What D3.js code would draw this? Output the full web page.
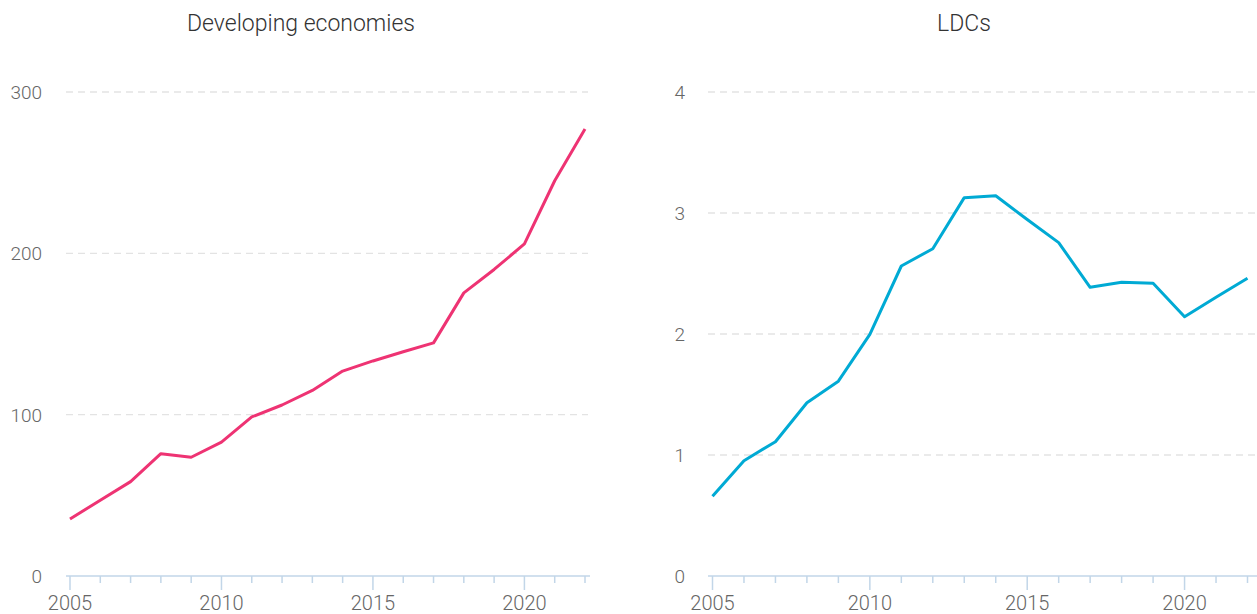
<!DOCTYPE html>
<html>
<head>
<meta charset="utf-8">
<script src="https://cdn.jsdelivr.net/npm/d3@7"></script>
<style>
  html, body { margin: 0; padding: 0; background: #fff; }
  svg { display: block; font-family: Roboto, sans-serif; }
</style>
</head>
<body>
<svg id="chart" width="1257" height="614"></svg>
<script>
const years = [2005,2006,2007,2008,2009,2010,2011,2012,2013,2014,2015,2016,2017,2018,2019,2020,2021,2022];
const developingValues = [35.3,47,58.5,75.8,73.6,83,98.6,106,115,127,133.3,139,144.5,175.5,190,205.8,245,277];
const ldcValues = [0.66,0.953,1.11,1.432,1.61,1.997,2.562,2.705,3.127,3.143,2.946,2.755,2.386,2.427,2.419,2.143,2.303,2.46];
const panelTitles = ["Developing economies", "LDCs"];
const developingTicks = [0,100,200,300];
const ldcTicks = [0,1,2,3,4];
const xTickLabels = [2005,2010,2015,2020];

const svg = d3.select("#chart");

const panels = [
  { title: panelTitles[0], values: developingValues, yTicks: developingTicks, yMax: 300,
    color: "#ee3373", x0: 70, x1: 585, gridL: 66, gridR: 588, axisL: 66, axisR: 590, labelX: 42, titleX: 301 },
  { title: panelTitles[1], values: ldcValues, yTicks: ldcTicks, yMax: 4,
    color: "#00aad4", x0: 712.5, x1: 1247.5, gridL: 708, gridR: 1257, axisL: 708, axisR: 1257, labelX: 685, titleX: 964 }
];

const yTop = 92, yBottom = 576;

panels.forEach(p => {
  const g = svg.append("g");
  const x = d3.scaleLinear().domain([years[0], years[years.length-1]]).range([p.x0, p.x1]);
  const y = d3.scaleLinear().domain([0, p.yMax]).range([yBottom, yTop]);

  g.append("text")
    .attr("x", p.titleX).attr("y", 31)
    .attr("text-anchor", "middle")
    .attr("font-size", 23)
    .attr("font-weight", 300)
    .attr("fill", "#333")
    .text(p.title);

  g.selectAll("line.grid").data(p.yTicks.filter(t => t !== 0)).enter().append("line")
    .attr("x1", p.gridL).attr("x2", p.gridR)
    .attr("y1", d => y(d)).attr("y2", d => y(d))
    .attr("stroke", "#e3e3e3").attr("stroke-width", 1.3)
    .attr("stroke-dasharray", "7,5");

  g.selectAll("text.ylab").data(p.yTicks).enter().append("text")
    .attr("x", p.labelX).attr("y", d => y(d))
    .attr("dy", "0.36em")
    .attr("text-anchor", "end")
    .attr("font-size", 19)
    .attr("font-weight", 300)
    .attr("fill", "#666")
    .text(d => d);

  g.append("line")
    .attr("x1", p.axisL).attr("x2", p.axisR)
    .attr("y1", yBottom).attr("y2", yBottom)
    .attr("stroke", "#c2d6e8").attr("stroke-width", 1.5);

  g.selectAll("line.tick").data(years).enter().append("line")
    .attr("x1", d => x(d)).attr("x2", d => x(d))
    .attr("y1", yBottom).attr("y2", d => xTickLabels.includes(d) ? yBottom + 14 : yBottom + 7)
    .attr("stroke", "#c2d6e8").attr("stroke-width", 1.5);

  g.selectAll("text.xlab").data(xTickLabels).enter().append("text")
    .attr("x", d => x(d)).attr("y", 610)
    .attr("text-anchor", "middle")
    .attr("font-size", 20)
    .attr("font-weight", 300)
    .attr("fill", "#666")
    .text(d => d);

  const line = d3.line().x((d, i) => x(years[i])).y(d => y(d));
  g.append("path")
    .datum(p.values)
    .attr("d", line)
    .attr("fill", "none")
    .attr("stroke", p.color)
    .attr("stroke-width", 3)
    .attr("stroke-linejoin", "round");
});
</script>
</body>
</html>
